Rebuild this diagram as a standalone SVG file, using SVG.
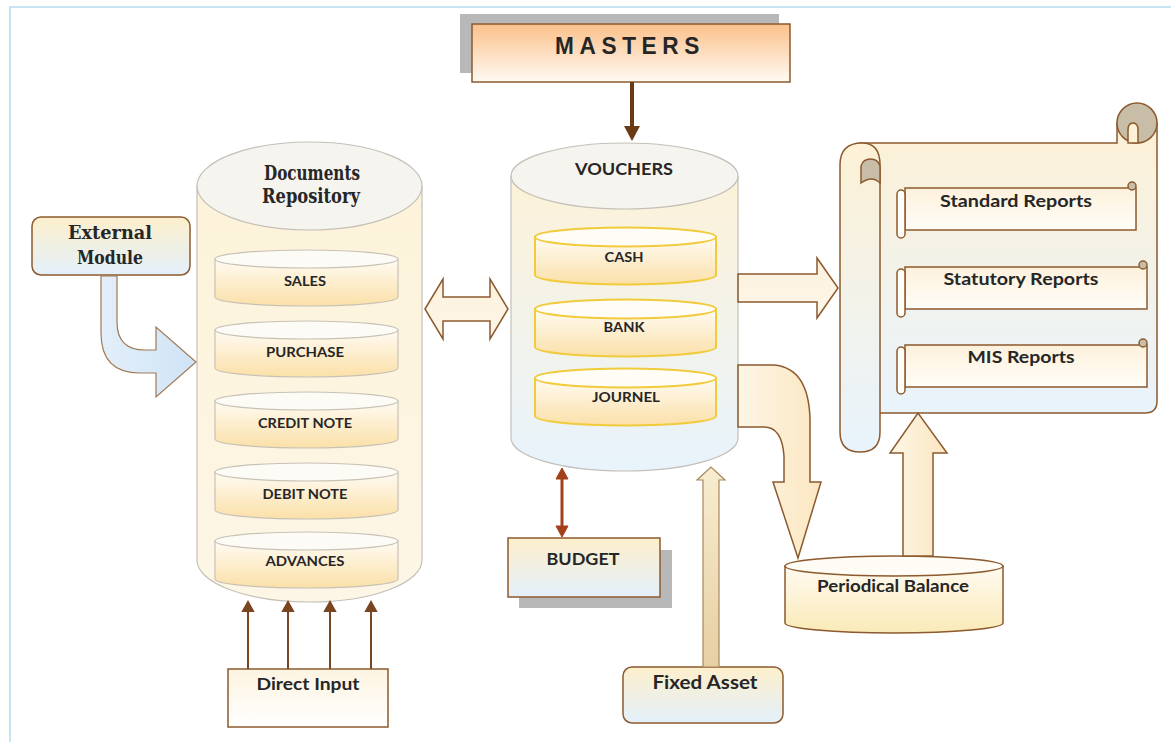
<svg xmlns="http://www.w3.org/2000/svg" width="1171" height="742" viewBox="0 0 1171 742">
<style>
.sans{font-family:Lato,"Open Sans","Liberation Sans",sans-serif;font-weight:700;fill:#262626;text-anchor:middle}
.serif{font-family:"DejaVu Serif","Liberation Serif",serif;font-weight:700;fill:#262626;text-anchor:middle}
.brown{stroke:#8c5a2e;stroke-width:1.5}
.cylside{stroke:#c4c0b8;stroke-width:1.2}
.doc{stroke:#c8c2b6;stroke-width:1.2}
.vch{stroke:#f1cb3c;stroke-width:2}
</style>
<defs>
<linearGradient id="gMast" x1="0" y1="0" x2="0" y2="1"><stop offset="0" stop-color="#fbc08a"/><stop offset="1" stop-color="#fffaf4"/></linearGradient>
<linearGradient id="gDocCyl" x1="0" y1="0" x2="0" y2="1"><stop offset="0" stop-color="#fdf3da"/><stop offset="1" stop-color="#fdf6e6"/></linearGradient>
<linearGradient id="gVchCyl" x1="0" y1="0" x2="0" y2="1"><stop offset="0" stop-color="#fdf2d8"/><stop offset="1" stop-color="#e8f3fc"/></linearGradient>
<linearGradient id="gInner" x1="0" y1="0" x2="0" y2="1"><stop offset="0" stop-color="#fffbf3"/><stop offset="1" stop-color="#fbe0a8"/></linearGradient>
<linearGradient id="gBox" x1="0" y1="0" x2="0" y2="1"><stop offset="0" stop-color="#fdefcc"/><stop offset="1" stop-color="#e3f0fb"/></linearGradient>
<linearGradient id="gScroll" x1="0" y1="0" x2="0" y2="1"><stop offset="0" stop-color="#fdf1d6"/><stop offset="1" stop-color="#e8f3fc"/></linearGradient>
<linearGradient id="gRep" x1="0" y1="0" x2="0" y2="1"><stop offset="0" stop-color="#fdf1dc"/><stop offset="1" stop-color="#fffdf8"/></linearGradient>
<linearGradient id="gArrowH" x1="0" y1="0" x2="0" y2="1"><stop offset="0" stop-color="#fdf1dc"/><stop offset="1" stop-color="#fdf6ea"/></linearGradient>
<linearGradient id="gArrowV" x1="0" y1="0" x2="1" y2="0"><stop offset="0" stop-color="#fdf6e6"/><stop offset="1" stop-color="#fbe6c0"/></linearGradient>
<linearGradient id="gFixed" x1="0" y1="0" x2="0" y2="1"><stop offset="0" stop-color="#f8edd0"/><stop offset="1" stop-color="#e6cfa3"/></linearGradient>
<linearGradient id="gBlueArrow" x1="0" y1="0" x2="1" y2="0"><stop offset="0" stop-color="#e3effa"/><stop offset="1" stop-color="#cfe4f6"/></linearGradient>
<linearGradient id="gPer" x1="0" y1="0" x2="0" y2="1"><stop offset="0" stop-color="#fffaf0"/><stop offset="1" stop-color="#faeab8"/></linearGradient>
<linearGradient id="gDirect" x1="0" y1="0" x2="0" y2="1"><stop offset="0" stop-color="#fdf4e2"/><stop offset="1" stop-color="#ffffff"/></linearGradient>
</defs>

<!-- frame -->
<path d="M10,742 V7 H1171" fill="none" stroke="#b7dbee" stroke-width="1.5"/>

<g id="masters">
<rect x="460" y="14" width="319" height="59" fill="#b8b8b8"/>
<rect x="472" y="24" width="318" height="58" fill="url(#gMast)" class="brown"/>
<text x="630" y="54" class="sans" style="font-family:'Liberation Sans',Arial,sans-serif;font-size:24px" letter-spacing="6" textLength="150" lengthAdjust="spacingAndGlyphs">MASTERS</text>
</g>

<g id="documents-repository">
<path d="M197,186 V560 A112.5,42 0 0 0 422,560 V186 Z" fill="url(#gDocCyl)" class="cylside"/>
<ellipse cx="309.5" cy="186" rx="112.5" ry="44" fill="#f6f4ef" class="cylside"/>
<text x="312" y="180" class="serif" font-size="21" textLength="96" lengthAdjust="spacingAndGlyphs">Documents</text>
<text x="311" y="203" class="serif" font-size="21" textLength="98" lengthAdjust="spacingAndGlyphs">Repository</text>
</g>

<g id="sales">
<path d="M215,259 V297 A91.5,9 0 0 0 398,297 V259 Z" fill="url(#gInner)" class="doc"/>
<ellipse cx="306.5" cy="259" rx="91.5" ry="9" fill="#fdfbf6" class="doc"/>
<text x="305" y="286" class="sans" font-size="14" textLength="42" lengthAdjust="spacingAndGlyphs">SALES</text>
</g>
<g id="purchase">
<path d="M215,330 V368 A91.5,9 0 0 0 398,368 V330 Z" fill="url(#gInner)" class="doc"/>
<ellipse cx="306.5" cy="330" rx="91.5" ry="9" fill="#fdfbf6" class="doc"/>
<text x="305" y="357" class="sans" font-size="14" textLength="78" lengthAdjust="spacingAndGlyphs">PURCHASE</text>
</g>
<g id="credit-note">
<path d="M215,401 V439 A91.5,9 0 0 0 398,439 V401 Z" fill="url(#gInner)" class="doc"/>
<ellipse cx="306.5" cy="401" rx="91.5" ry="9" fill="#fdfbf6" class="doc"/>
<text x="305" y="428" class="sans" font-size="14" textLength="94" lengthAdjust="spacingAndGlyphs">CREDIT NOTE</text>
</g>
<g id="debit-note">
<path d="M215,472 V510 A91.5,9 0 0 0 398,510 V472 Z" fill="url(#gInner)" class="doc"/>
<ellipse cx="306.5" cy="472" rx="91.5" ry="9" fill="#fdfbf6" class="doc"/>
<text x="305" y="499" class="sans" font-size="14" textLength="85" lengthAdjust="spacingAndGlyphs">DEBIT NOTE</text>
</g>
<g id="advances">
<path d="M215,541 V579 A91.5,9 0 0 0 398,579 V541 Z" fill="url(#gInner)" class="doc"/>
<ellipse cx="306.5" cy="541" rx="91.5" ry="9" fill="#fdfbf6" class="doc"/>
<text x="305" y="566" class="sans" font-size="14" textLength="79" lengthAdjust="spacingAndGlyphs">ADVANCES</text>
</g>

<g id="vouchers">
<path d="M511,176 V438 A113.5,33 0 0 0 738,438 V176 Z" fill="url(#gVchCyl)" class="cylside"/>
<ellipse cx="624.5" cy="176" rx="113.5" ry="33" fill="#f6f4ef" class="cylside"/>
<text x="624" y="175" class="sans" font-size="17" textLength="98" lengthAdjust="spacingAndGlyphs">VOUCHERS</text>
</g>
<g id="cash">
<path d="M535,237 V275 A90.5,9.5 0 0 0 716,275 V237 Z" fill="url(#gInner)" class="vch"/>
<ellipse cx="625.5" cy="237" rx="90.5" ry="9.5" fill="#fffdf6" class="vch"/>
<text x="624" y="262" class="sans" font-size="14" textLength="39" lengthAdjust="spacingAndGlyphs">CASH</text>
</g>
<g id="bank">
<path d="M535,309 V347 A90.5,9.5 0 0 0 716,347 V309 Z" fill="url(#gInner)" class="vch"/>
<ellipse cx="625.5" cy="309" rx="90.5" ry="9.5" fill="#fffdf6" class="vch"/>
<text x="624" y="332" class="sans" font-size="14" textLength="41" lengthAdjust="spacingAndGlyphs">BANK</text>
</g>
<g id="journel">
<path d="M535,378 V416 A90.5,9.5 0 0 0 716,416 V378 Z" fill="url(#gInner)" class="vch"/>
<ellipse cx="625.5" cy="378" rx="90.5" ry="9.5" fill="#fffdf6" class="vch"/>
<text x="626" y="402" class="sans" font-size="14" textLength="68" lengthAdjust="spacingAndGlyphs">JOURNEL</text>
</g>

<g id="external-module">
<rect x="32" y="217" width="158" height="58" rx="9" fill="url(#gBox)" class="brown"/>
<text x="110" y="239" class="serif" font-size="19" textLength="84" lengthAdjust="spacingAndGlyphs">External</text>
<text x="110" y="264" class="serif" font-size="19" textLength="66" lengthAdjust="spacingAndGlyphs">Module</text>
</g>

<g id="direct-input">
<rect x="228" y="669" width="160" height="58" fill="url(#gDirect)" class="brown"/>
<text x="308" y="690" class="sans" font-size="17" textLength="103" lengthAdjust="spacingAndGlyphs">Direct Input</text>
</g>

<g id="budget">
<rect x="519" y="550" width="153" height="58" fill="#b8b8b8"/>
<rect x="508" y="538" width="152" height="59" fill="url(#gBox)" class="brown"/>
<text x="583" y="565" class="sans" font-size="17" textLength="73" lengthAdjust="spacingAndGlyphs">BUDGET</text>
</g>

<g id="fixed-asset">
<rect x="623" y="667" width="160" height="56" rx="9" fill="url(#gBox)" class="brown"/>
<text x="705" y="689" class="sans" font-size="18" textLength="105" lengthAdjust="spacingAndGlyphs">Fixed Asset</text>
</g>

<g id="periodical-balance">
<path d="M785,566 V623 A109,10 0 0 0 1003,623 V566 Z" fill="url(#gPer)" class="brown"/>
<ellipse cx="894" cy="566" rx="109" ry="10" fill="#fffcf5" class="brown"/>
<text x="893" y="592" class="sans" font-size="17" textLength="152" lengthAdjust="spacingAndGlyphs">Periodical Balance</text>
</g>

<g id="reports-scroll">
<path d="M860,143 H1117 V123 H1157 V401 Q1157,413 1145,413 H870 Z" fill="url(#gScroll)" class="brown"/>
<circle cx="1137" cy="123" r="20" fill="#c8bea8" class="brown"/>
<path d="M1128,143 V130 Q1128,123 1133,123 Q1138,123 1138,130 V143 Z" fill="#fdf1d6" class="brown"/>
<path d="M840,165 Q840,143 862,143 Q880,143 880,165 V432 Q880,452 860,452 Q840,452 840,432 Z" fill="url(#gScroll)" class="brown"/>
<path d="M861,183 V166 A10,10 0 0 1 880,166 V183 Q872,175 861,183 Z" fill="#c8bea8" class="brown"/>
</g>

<g id="standard-reports">
<rect x="905" y="188" width="231" height="42" fill="url(#gRep)" class="brown"/>
<circle cx="1132" cy="186" r="4" fill="#c8bea8" class="brown"/>
<rect x="897" y="190" width="8" height="48" rx="4" fill="#fffdf8" class="brown"/>
<text x="1016" y="207" class="sans" font-size="17" textLength="152" lengthAdjust="spacingAndGlyphs">Standard Reports</text>
</g>
<g id="statutory-reports">
<rect x="905" y="267" width="242" height="42" fill="url(#gRep)" class="brown"/>
<circle cx="1143" cy="265" r="4" fill="#c8bea8" class="brown"/>
<rect x="897" y="269" width="8" height="48" rx="4" fill="#fffdf8" class="brown"/>
<text x="1021" y="285" class="sans" font-size="17" textLength="155" lengthAdjust="spacingAndGlyphs">Statutory Reports</text>
</g>
<g id="mis-reports">
<rect x="905" y="345" width="242" height="42" fill="url(#gRep)" class="brown"/>
<circle cx="1143" cy="343" r="4" fill="#c8bea8" class="brown"/>
<rect x="897" y="347" width="8" height="47" rx="4" fill="#fffdf8" class="brown"/>
<text x="1021" y="363" class="sans" font-size="17" textLength="107" lengthAdjust="spacingAndGlyphs">MIS Reports</text>
</g>

<g id="connectors">
<!-- masters to vouchers -->
<path d="M632,82 V128" stroke="#6b3a14" stroke-width="4" fill="none"/>
<path d="M624,126 L640,126 L632,141 Z" fill="#6b3a14"/>
<!-- external module curved arrow -->
<path d="M101,276 L117,276 L117,322 Q117,350 145,350 L156,350 L156,327 L196,362 L156,397 L156,373 L140,373 Q101,373 101,333 Z" fill="url(#gBlueArrow)" stroke="#a07a55" stroke-width="1.2"/>
<!-- documents <-> vouchers -->
<path d="M425,309 L443,279 L443,297 L490,297 L490,279 L508,309 L490,339 L490,321 L443,321 L443,339 Z" fill="url(#gArrowH)" class="brown"/>
<!-- vouchers to reports -->
<path d="M738,274 L817,274 L817,258 L838,288 L817,318 L817,302 L738,302 Z" fill="url(#gArrowH)" class="brown"/>
<!-- vouchers to periodical balance -->
<path d="M738,365 L774,365 Q809,368 810,420 L810,482 L821,482 L798,558 L773,482 L784,482 L784,456 Q782,427 764,427 L738,427 Z" fill="url(#gArrowV)" class="brown"/>
<!-- periodical balance to reports -->
<path d="M903,556 L903,453 L890,453 L918,413 L947,453 L933,453 L933,556 Z" fill="url(#gArrowV)" class="brown"/>
<!-- fixed asset to vouchers -->
<path d="M703,667 L703,480 L697,480 L711,467 L725,480 L719,480 L719,667 Z" fill="url(#gFixed)" stroke="#a8875e" stroke-width="1.2"/>
<!-- budget <-> vouchers -->
<path d="M562,478 V527" stroke="#a3401a" stroke-width="3" fill="none"/>
<path d="M556,479 L562,468 L568,479 Z M556,526 L562,537 L568,526 Z" fill="#a3401a" stroke="#a3401a" stroke-width="1"/>
<!-- direct input arrows -->
<g stroke="#7a4521" stroke-width="2" fill="#7a4521">
<path d="M248,669 V610" fill="none"/><path d="M243,611 L248,602 L253,611 Z"/>
<path d="M288,669 V610" fill="none"/><path d="M283,611 L288,602 L293,611 Z"/>
<path d="M330,669 V610" fill="none"/><path d="M325,611 L330,602 L335,611 Z"/>
<path d="M371,669 V610" fill="none"/><path d="M366,611 L371,602 L376,611 Z"/>
</g>
</g>
</svg>
